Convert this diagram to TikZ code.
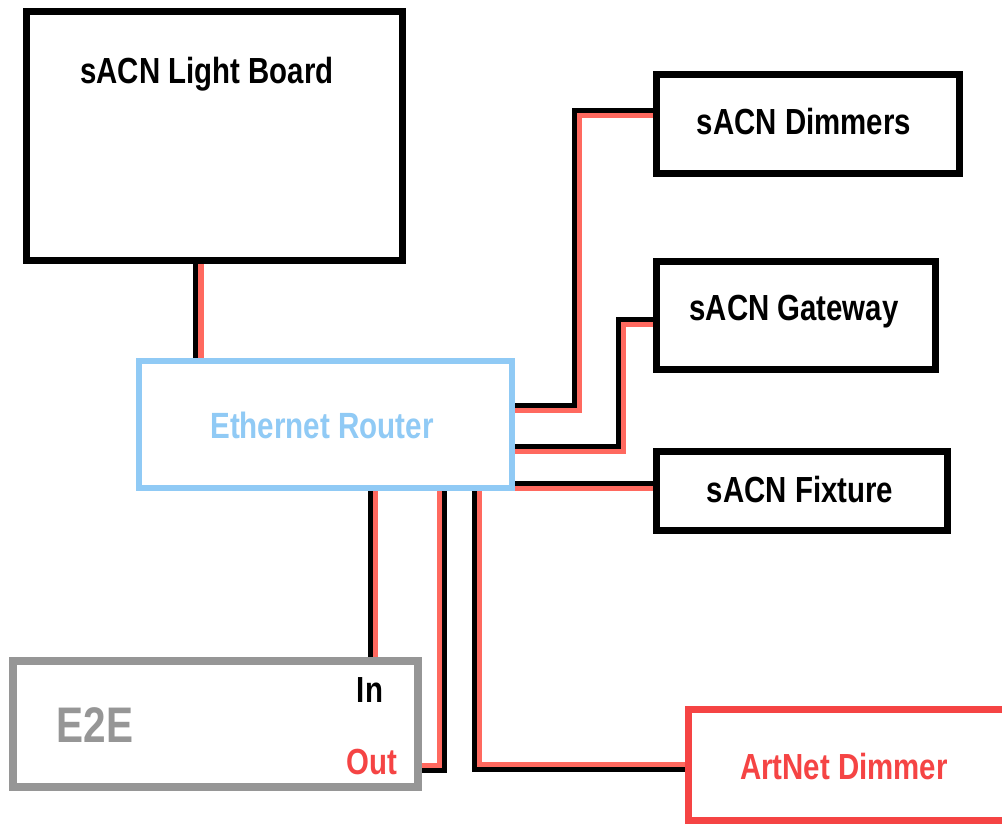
\documentclass[tikz,border=0pt]{standalone}
\usepackage{fontspec}
\setmainfont{Liberation Sans}[FakeStretch=0.81]
\definecolor{routerblue}{RGB}{144,202,245}
\definecolor{boxgray}{RGB}{150,150,150}
\definecolor{artred}{RGB}{245,68,68}
\definecolor{cablered}{RGB}{255,105,95}
\begin{document}
\begin{tikzpicture}[x=1pt,y=-1pt,
  box/.style={draw, fill=white, line width=7pt, inner sep=0pt, outer sep=0pt},
  lbl/.style={font=\bfseries\fontsize{36.3}{40}\selectfont, inner sep=0pt},
  wire/.style={line width=5.5pt},
  blk/.style={wire, draw=black},
  rd/.style={wire, draw=cablered},
  ul/.style={transform canvas={xshift=-2.5pt, yshift=2.5pt}},
  dr/.style={transform canvas={xshift=2.5pt, yshift=-2.5pt}},
  dl/.style={transform canvas={xshift=-2.5pt, yshift=-2.5pt}},
  ur/.style={transform canvas={xshift=2.5pt, yshift=2.5pt}}]
\useasboundingbox (0,0) rectangle (1002,825);

% boxes (positions only, drawn later on top)
\path node[box, draw=none, fill=none, minimum width=375.5pt, minimum height=249pt] (light) at (214.25,135.5) {};
\path node[box, draw=none, fill=none, minimum width=303.5pt, minimum height=99pt] (dimmers) at (807.75,123.5) {};
\path node[box, draw=none, fill=none, minimum width=279pt, minimum height=108.5pt] (gateway) at (795.5,315.25) {};
\path node[box, draw=none, fill=none, minimum width=291pt, minimum height=79pt] (fixture) at (801.5,490.5) {};
\path node[box, draw=none, fill=none, minimum width=373pt, minimum height=127pt] (router) at (325.5,424.5) {};
\path node[box, draw=none, fill=none, minimum width=405pt, minimum height=126pt] (e2e) at (215.5,724) {};
\path node[box, draw=none, fill=none, minimum width=322pt, minimum height=111pt] (artnet) at (849,764.5) {};

\coordinate (lb1) at (198.25,0);
\coordinate (d1) at (577,408);
\coordinate (d2) at (577,112.75);
\coordinate (g1) at (620.75,449);
\coordinate (g2) at (620.75,322);
\coordinate (f1) at (0,486);
\coordinate (i1) at (373,0);
\coordinate (o1) at (442,767.75);
\coordinate (a1) at (477,766.75);

% cables
\draw[blk, ul] (light.south -| lb1) -- (router.north -| lb1);
\draw[rd, dr] (light.south -| lb1) -- (router.north -| lb1);

\draw[blk, ul] (router.east |- d1) -- (d1) -- (d2) -- (dimmers.west |- d2);
\draw[rd, dr] (router.east |- d1) -- (d1) -- (d2) -- (dimmers.west |- d2);

\draw[blk, ul] (router.east |- g1) -- (g1) -- (g2) -- (gateway.west |- g2);
\draw[rd, dr] (router.east |- g1) -- (g1) -- (g2) -- (gateway.west |- g2);

\draw[blk, ul] (router.east |- f1) -- (fixture.west |- f1);
\draw[rd, dr] (router.east |- f1) -- (fixture.west |- f1);

\draw[blk, ul] (router.south -| i1) -- (e2e.north -| i1);
\draw[rd, dr] (router.south -| i1) -- (e2e.north -| i1);

\draw[rd, ul] (router.south -| o1) -- (o1) -- (e2e.east |- o1);
\draw[blk, dr] (router.south -| o1) -- (o1) -- (e2e.east |- o1);

\draw[blk, dl] (router.south -| a1) -- (a1) -- (artnet.west |- a1);
\draw[rd, ur] (router.south -| a1) -- (a1) -- (artnet.west |- a1);

% visible boxes
\draw[line width=7pt, fill=white] (light.north west) rectangle (light.south east);
\draw[line width=7pt, fill=white] (dimmers.north west) rectangle (dimmers.south east);
\draw[line width=7pt, fill=white] (gateway.north west) rectangle (gateway.south east);
\draw[line width=7pt, fill=white] (fixture.north west) rectangle (fixture.south east);
\draw[line width=6.5pt, draw=routerblue, fill=white] (router.north west) rectangle (router.south east);
\draw[line width=7.5pt, draw=boxgray, fill=white] (e2e.north west) rectangle (e2e.south east);
\draw[line width=7pt, draw=artred, fill=white] (artnet.north west) rectangle (artnet.south east);

% labels
\node[lbl] (tlight) at (207,74) {sACN Light Board};
\node[lbl] (tdim) at (804,122) {sACN Dimmers};
\node[lbl] (tgate) at (794,312) {sACN Gateway};
\node[lbl] (tfix) at (800,490) {sACN Fixture};
\node[lbl, text=routerblue, font=\bfseries\fontsize{36.5}{40}\selectfont] (trouter) at (322,425) {Ethernet Router};
\node[lbl, text=boxgray, font=\bfseries\fontsize{50}{54}\selectfont] (te2e) at (95,725) {E2E};
\node[lbl] (tin) at (370,690) {In};
\node[lbl, text=artred] (tout) at (372,762) {Out};
\node[lbl, text=artred] (tart) at (844,767) {ArtNet Dimmer};
\end{tikzpicture}
\end{document}
